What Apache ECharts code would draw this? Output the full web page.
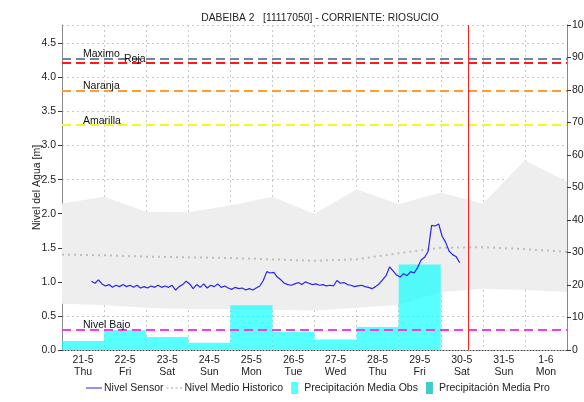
<!DOCTYPE html>
<html>
<head>
<meta charset="utf-8">
<script src="https://cdn.jsdelivr.net/npm/echarts@6/dist/echarts.min.js"></script>
<style>html,body{margin:0;padding:0;background:#fff}#c{width:584px;height:402px}</style>
</head>
<body>
<div id="c"></div>
<script>
// ---- data ----
var titleText = 'DABEIBA 2   [11117050] - CORRIENTE: RIOSUCIO';
var dayLabels = ['21-5','22-5','23-5','24-5','25-5','26-5','27-5','28-5','29-5','30-5','31-5','1-6'];
var dayNames  = ['Thu','Fri','Sat','Sun','Mon','Tue','Wed','Thu','Fri','Sat','Sun','Mon'];
var leftTicks = [0.0,0.5,1.0,1.5,2.0,2.5,3.0,3.5,4.0,4.5];
var rightTicks = [0,10,20,30,40,50,60,70,80,90,100];

// sensor level (m), every 2 hours, starting at day index 0.2
var sensorStartDay = 0.2;
var sensorStepHours = 2;
var sensorLevel = [
 1.01,0.98,1.03,0.97,0.94,0.96,0.92,0.95,0.93,0.96,
 0.93,0.95,0.92,0.95,0.91,0.93,0.91,0.94,0.92,0.95,
 0.92,0.94,0.92,0.95,0.88,0.93,0.96,1.01,0.97,0.90,
 0.96,0.92,0.97,0.91,0.95,0.93,0.97,0.92,0.94,0.91,
 0.89,0.92,0.90,0.91,0.88,0.90,0.88,0.91,0.94,1.02,
 1.15,1.13,1.14,1.07,1.03,0.98,0.96,0.95,0.97,0.99,
 0.96,1.00,0.98,0.96,0.97,0.95,0.96,0.94,0.95,0.94,
 1.02,0.98,0.99,0.96,0.95,0.93,0.94,0.95,0.93,0.92,
 0.90,0.93,0.97,1.03,1.09,1.22,1.16,1.10,1.07,1.12,
 1.09,1.15,1.13,1.21,1.32,1.36,1.45,1.83,1.82,1.85,
 1.67,1.58,1.45,1.40,1.37,1.28
];

// historical statistics at day boundaries (day index)
var histDay   = [-0.5,0.5,1.5,2.5,3.5,4.5,5.5,6.5,7.5,8.5,9.5,10.5,11.5];
var histUpper = [2.15,2.25,2.03,2.02,2.12,2.25,2.00,2.36,2.14,2.31,2.15,2.78,2.47];
var histLower = [0.68,0.66,0.62,0.60,0.60,0.59,0.58,0.62,0.66,0.85,0.90,0.88,0.85];
var histMean  = [1.40,1.39,1.37,1.36,1.35,1.33,1.31,1.33,1.42,1.50,1.51,1.48,1.44];

// precipitation (mm) per day index
var precipDay = [0,1,2,3,4,5,6,7,8];
var precipObs = [2.8,6.1,4.0,2.2,13.8,5.6,3.2,7.1,26.3];
var precipPro = [];

// thresholds (m)
var thresholdNames  = ['Maximo','Roja','Naranja','Amarilla','Nivel Bajo'];
var thresholdValues = [4.28,4.21,3.80,3.30,0.30];
var thresholdColors = ['#7483a6','#ff1a1a','#ff9f2a','#f5f52a','#ee3cee'];
var nowDay = 9.15;

// ---- build ----
var sensorData = sensorLevel.map(function(v,i){ return [sensorStartDay + i*sensorStepHours/24, v]; });
var meanData = histDay.map(function(d,i){ return [d, histMean[i]]; });
var obsData = precipDay.map(function(d,i){ return [d, precipObs[i]]; });

var font = 'Arial, "Liberation Sans", sans-serif';
var fs = 10.5;

var thresholdLines = thresholdNames.map(function(n,i){
  return {
    yAxis: thresholdValues[i],
    lineStyle: {color: thresholdColors[i], type: [9,5], width: 2},
    label: {
      show: true, formatter: n, position: 'insideStartTop',
      color: '#111', fontSize: 10.5, fontFamily: font,
      distance: [i === 1 ? 62 : 21, -1]
    }
  };
});

// legend icon paths (with corner dots so the box is exactly itemWidth x itemHeight)
var corner = 'M0,0h0.01v0.01h-0.01Z M15.99,11.99h0.01v0.01h-0.01Z ';
var iconLine = 'path://' + corner + 'M0,5.4H16V6.6H0Z';
var iconDots = 'path://' + corner + 'M0,5.2H2V6.8H0Z M4.5,5.2H6.5V6.8H4.5Z M9,5.2H11V6.8H9Z M13.5,5.2H15.5V6.8H13.5Z';
var iconRect = 'path://' + corner + 'M5,0H12V12H5Z';

var chart = echarts.init(document.getElementById('c'), null, {renderer:'canvas'});
chart.setOption({
  animation: false,
  title: {
    text: titleText, left: 315, top: 8, textAlign: 'center',
    textStyle: {fontSize: 10.3, fontWeight: 'normal', color: '#222', fontFamily: font}
  },
  grid: {left: 62, right: 17, top: 25, bottom: 52, containLabel: false, outerBoundsMode: 'none'},
  legend: {
    bottom: 3, left: 81, itemGap: 3, itemWidth: 16, itemHeight: 12,
    textStyle: {fontSize: 10.5, color: '#222', fontFamily: font, padding: [0,0,0,-3]},
    data: [
      {name: 'Nivel Sensor', icon: iconLine},
      {name: 'Nivel Medio Historico', icon: iconDots},
      {name: 'Precipitación Media Obs', icon: iconRect},
      {name: 'Precipitación Media Pro', icon: iconRect}
    ]
  },
  xAxis: {
    type: 'value', min: -0.5, max: 11.5, interval: 0.5,
    axisLine: {show: true, onZero: false, lineStyle: {color: '#444', type: [1,2]}},
    axisTick: {show: false},
    axisLabel: {
      margin: 4, fontSize: fs, color: '#222', fontFamily: font, lineHeight: 12,
      showMinLabel: false, showMaxLabel: false,
      formatter: function(v){
        var k = Math.round(v);
        if (Math.abs(v-k) > 1e-6 || k < 0 || k >= dayLabels.length) return '';
        return dayLabels[k] + '\n' + dayNames[k];
      }
    },
    splitLine: {show: true, lineStyle: {color: ['#c8c8c8','rgba(0,0,0,0)'], type: [2,3], width: 1}}
  },
  yAxis: [
    {
      type: 'value', min: 0, max: 4.77, interval: 0.5,
      name: 'Nivel del Agua [m]', nameLocation: 'middle', nameGap: 19, nameMoveOverlap: false,
      nameTextStyle: {fontSize: fs, color: '#222', fontFamily: font},
      axisLine: {show: true, onZero: false, lineStyle: {color: '#888'}},
      axisTick: {show: true, length: 4, lineStyle: {color: '#333'}},
      axisLabel: {
        fontSize: fs, color: '#222', fontFamily: font, margin: 6, showMaxLabel: false,
        formatter: function(v){ return leftTicks.indexOf(Math.round(v*10)/10) >= 0 && Math.abs(v*2 - Math.round(v*2)) < 1e-6 ? v.toFixed(1) : ''; }
      },
      splitLine: {show: true, lineStyle: {color: '#c8c8c8', type: [2,3]}}
    },
    {
      type: 'value', min: 0, max: 100, interval: 10, position: 'right',
      axisLine: {show: true, onZero: false, lineStyle: {color: '#888'}},
      axisTick: {show: true, length: 4, lineStyle: {color: '#333'}},
      axisLabel: {
        fontSize: fs, color: '#222', fontFamily: font, margin: 5,
        formatter: function(v){ return rightTicks.indexOf(v) >= 0 ? String(v) : ''; }
      },
      splitLine: {show: false}
    }
  ],
  series: [
    {
      name: 'band', type: 'custom', silent: true, z: 1,
      data: [[0]],
      renderItem: function(params, api){
        var pts = [];
        for (var i = 0; i < histDay.length; i++) pts.push(api.coord([histDay[i], histUpper[i]]));
        for (var j = histDay.length-1; j >= 0; j--) pts.push(api.coord([histDay[j], histLower[j]]));
        return {type: 'polygon', shape: {points: pts}, style: {fill: '#eeeeee'}};
      }
    },
    {
      name: 'Precipitación Media Obs', type: 'custom', yAxisIndex: 1, z: 2,
      itemStyle: {color: 'rgba(0,255,255,0.66)'},
      data: obsData, encode: {x: 0, y: 1},
      renderItem: function(params, api){
        var x = api.value(0), v = api.value(1);
        var p1 = api.coord([x-0.5, v]);
        var p2 = api.coord([x+0.5, 0]);
        return {type: 'rect', shape: {x: p1[0], y: p1[1], width: p2[0]-p1[0], height: p2[1]-p1[1]},
                style: {fill: api.visual('color')}};
      }
    },
    {
      name: 'Precipitación Media Pro', type: 'custom', yAxisIndex: 1, z: 2,
      itemStyle: {color: '#40cccc'},
      data: precipPro,
      renderItem: function(){ return null; }
    },
    {
      name: 'Nivel Medio Historico', type: 'line', z: 3, symbol: 'none',
      data: meanData,
      lineStyle: {color: '#bdbdbd', width: 2, type: [2,4]},
      itemStyle: {color: '#bdbdbd'}
    },
    {
      name: 'Nivel Sensor', type: 'line', z: 4, symbol: 'none',
      data: sensorData,
      lineStyle: {color: '#2626ee', width: 1.2},
      itemStyle: {color: '#2626ee'},
      markLine: {
        silent: true, symbol: 'none', animation: false,
        data: thresholdLines.concat([{
          xAxis: nowDay, lineStyle: {color: '#ff2020', type: 'solid', width: 1}, label: {show: false}
        }])
      }
    }
  ]
});
</script>
</body>
</html>
